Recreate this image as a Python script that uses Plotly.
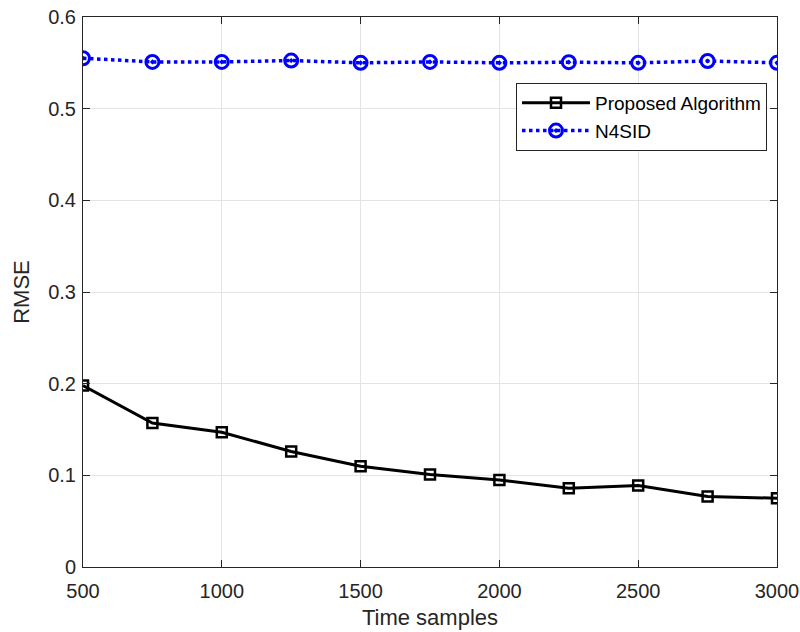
import plotly.graph_objects as go

time_samples = [500, 750, 1000, 1250, 1500, 1750, 2000, 2250, 2500, 2750, 3000]
proposed_rmse = [0.198, 0.157, 0.147, 0.126, 0.110, 0.101, 0.095, 0.086, 0.089, 0.077, 0.075]
n4sid_rmse = [0.555, 0.551, 0.551, 0.5525, 0.550, 0.551, 0.550, 0.5507, 0.550, 0.552, 0.550]
x_ticks = [500, 1000, 1500, 2000, 2500, 3000]
y_ticks = [0, 0.1, 0.2, 0.3, 0.4, 0.5, 0.6]
y_tick_labels = ["0", "0.1", "0.2", "0.3", "0.4", "0.5", "0.6"]

FONT = "Liberation Sans, Arial, Helvetica, sans-serif"

fig = go.Figure()
fig.add_trace(go.Scatter(
    x=time_samples, y=proposed_rmse, name="Proposed Algorithm",
    mode="lines+markers",
    line=dict(color="black", width=3),
    marker=dict(symbol="square-open", size=10, color="black", line=dict(width=2.5, color="black")),
))
fig.add_trace(go.Scatter(
    x=time_samples, y=n4sid_rmse, name="N4SID",
    mode="lines+markers",
    line=dict(color="#0000ff", width=3.5, dash="dot"),
    marker=dict(symbol="circle-open-dot", size=13, color="#0000ff", line=dict(width=3, color="#0000ff")),
))

axis_common = dict(
    showline=True, linecolor="#262626", linewidth=1, mirror="allticks",
    ticks="inside", ticklen=7, tickcolor="#262626", tickwidth=1,
    showgrid=True, gridcolor="#e3e3e3", gridwidth=1, zeroline=False,
    automargin=False, ticklabeloverflow="allow",
    tickfont=dict(family=FONT, size=20, color="#262626"),
)

fig.update_layout(
    width=800, height=632,
    margin=dict(l=83, r=23, t=17, b=65),
    plot_bgcolor="white", paper_bgcolor="white",
    font=dict(family=FONT, color="#262626"),
    xaxis=dict(range=[500, 3000], tickvals=x_ticks, ticklabelstandoff=6,
               title=dict(text="Time samples", font=dict(size=22, color="#262626"), standoff=8),
               **axis_common),
    yaxis=dict(range=[0, 0.6], tickvals=y_ticks, ticktext=y_tick_labels, ticklabelstandoff=2,
               title=dict(text="RMSE", font=dict(size=22, color="#262626"), standoff=12),
               **axis_common),
    legend=dict(x=0.9856, y=0.88, xanchor="right", yanchor="top",
                bgcolor="white", bordercolor="#262626", borderwidth=1,
                font=dict(size=19, color="#000000"), tracegroupgap=0,
                itemwidth=68),
    showlegend=True,
)

fig.write_html(
    "out.html",
    config={"displayModeBar": False},
    post_script="document.body.style.margin='0';document.body.style.overflow='hidden';",
)
